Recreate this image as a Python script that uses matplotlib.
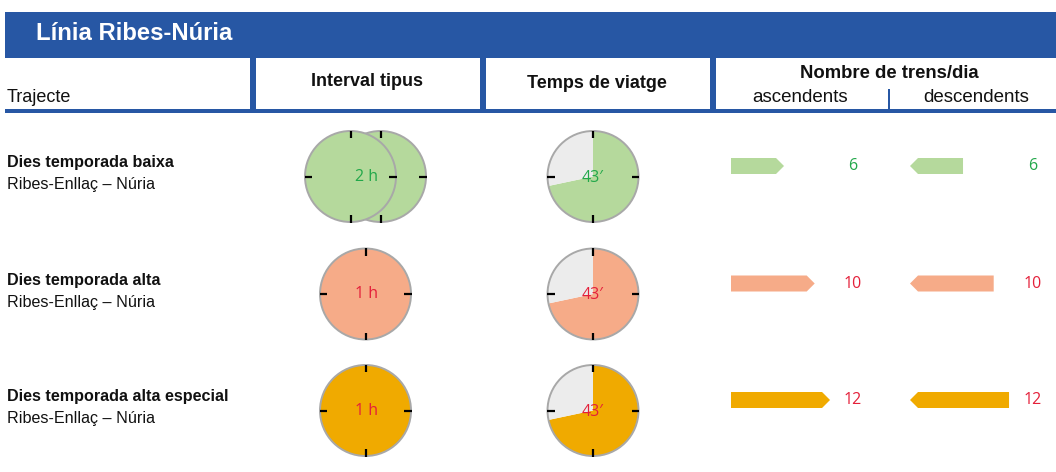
import matplotlib
matplotlib.use("Agg")
import matplotlib.pyplot as plt
from matplotlib.patches import Rectangle, Circle, Wedge, Polygon

plt.rcParams['font.family'] = ['Liberation Sans', 'DejaVu Sans']

# ---------------- data ----------------
title = "Línia Ribes-Núria"
col_headers = ["Trajecte", "Interval tipus", "Temps de viatge", "Nombre de trens/dia"]
sub_headers = ["ascendents", "descendents"]
row_titles = ["Dies temporada baixa", "Dies temporada alta", "Dies temporada alta especial"]
row_routes = ["Ribes-Enllaç – Núria", "Ribes-Enllaç – Núria", "Ribes-Enllaç – Núria"]
interval_hours = [2, 1, 1]
travel_minutes = [43, 43, 43]
trains_up = [6, 10, 12]
trains_down = [6, 10, 12]

# ---------------- style ----------------
BLUE = "#2757a4"
fills = ["#b5d99c", "#f6ab88", "#f0aa00"]
txtcol = ["#22a84a", "#e4203a", "#e4203a"]
GRAY_EDGE = "#a8a8a8"
GRAY_FILL = "#ececec"
INK = "#111111"
NUMFONT = ['Open Sans', 'DejaVu Sans']

W, H = 1056, 472
fig = plt.figure(figsize=(W / 100, H / 100), dpi=100)
ax = fig.add_axes([0, 0, 1, 1])
ax.set_xlim(0, W)
ax.set_ylim(H, 0)
ax.axis("off")

# header bar
ax.add_patch(Rectangle((5, 12), W - 5, 45.5, color=BLUE, lw=0))
ax.text(36, 40, title, color="white", fontsize=17.2, fontweight="bold", va="baseline", ha="left")
for xs in [250, 479.5, 709.5]:
    ax.add_patch(Rectangle((xs, 57), 6, 53, color=BLUE, lw=0))
ax.add_patch(Rectangle((5, 109), W - 5, 4, color=BLUE, lw=0))
ax.add_patch(Rectangle((888, 89), 2.4, 20, color=BLUE, lw=0))

ax.text(7, 102, col_headers[0], fontsize=13, va="baseline", ha="left", color=INK)
ax.text(367, 86.5, col_headers[1], fontsize=13, fontweight="bold", va="baseline", ha="center", color=INK)
ax.text(597, 87.5, col_headers[2], fontsize=13, fontweight="bold", va="baseline", ha="center", color=INK)
ax.text(889, 78, col_headers[3], fontsize=13.3, fontweight="bold", va="baseline", ha="center", color=INK)
ax.text(800, 102, sub_headers[0], fontsize=13.5, va="baseline", ha="center", color=INK)
ax.text(976, 102, sub_headers[1], fontsize=13.5, va="baseline", ha="center", color=INK)

row_y = [176.5, 294, 410.5]
R = 45.5


def clock_face(cx, cy, fill, z):
    ax.add_patch(Circle((cx, cy), R, facecolor=fill, edgecolor=GRAY_EDGE, lw=1.4, zorder=z))


def clock_ticks(cx, cy, z):
    for dx, dy in [(0, -1), (1, 0), (0, 1), (-1, 0)]:
        ax.plot([cx + dx * (R - 7), cx + dx * (R + 0.5)], [cy + dy * (R - 7), cy + dy * (R + 0.5)],
                color="black", lw=1.6, zorder=z + 0.5, solid_capstyle="butt")


for i in range(3):
    cy = row_y[i]
    # labels
    ax.text(7, cy - 9, row_titles[i], fontsize=11.6, fontweight="bold", va="baseline", ha="left", color=INK)
    ax.text(7, cy + 13, row_routes[i], fontsize=11.6, va="baseline", ha="left", color=INK)

    # interval clock(s)
    n = interval_hours[i]
    gx = 365.5
    off = 30
    centers = [gx + (k - (n - 1) / 2) * off for k in range(n)]
    for k, cx in enumerate(reversed(centers)):
        z = 2 + k * 2
        clock_face(cx, cy, fills[i], z)
        clock_ticks(cx, cy, z)
    ax.text(gx + 1, cy + 0.5, f"{n} h", fontsize=11.5, color=txtcol[i], ha="center", va="center",
            zorder=20, family=NUMFONT)

    # travel time clock (screen y is inverted: clockwise on screen = increasing angle)
    tx = 593
    m = travel_minutes[i]
    end = -90 + 360 * m / 60
    ax.add_patch(Wedge((tx, cy), R, -90, end, facecolor=fills[i], edgecolor="none", zorder=2))
    ax.add_patch(Wedge((tx, cy), R, end, 270, facecolor=GRAY_FILL, edgecolor="none", zorder=2))
    ax.add_patch(Circle((tx, cy), R, facecolor="none", edgecolor=GRAY_EDGE, lw=1.4, zorder=3))
    clock_ticks(tx, cy, 3)
    ax.text(tx, cy + 1, f"{m}\u2032", fontsize=11.5, color=txtcol[i], ha="center", va="center",
            zorder=20, family=NUMFONT)

    # train arrows
    ay = cy - 10.5
    hh = 8
    tip = 8
    L_up = 7 + 7.67 * trains_up[i]
    x0 = 731
    ax.add_patch(Polygon([(x0, ay - hh), (x0 + L_up - tip, ay - hh), (x0 + L_up, ay),
                          (x0 + L_up - tip, ay + hh), (x0, ay + hh)], closed=True,
                         facecolor=fills[i], edgecolor="none", zorder=2))
    ax.text(853, ay + 0.5, str(trains_up[i]), fontsize=11.5, color=txtcol[i], ha="center", va="center",
            family=NUMFONT)

    L_dn = 7 + 7.67 * trains_down[i]
    xl = 910
    ax.add_patch(Polygon([(xl, ay), (xl + tip, ay - hh), (xl + L_dn, ay - hh),
                          (xl + L_dn, ay + hh), (xl + tip, ay + hh)], closed=True,
                         facecolor=fills[i], edgecolor="none", zorder=2))
    ax.text(1033, ay + 0.5, str(trains_down[i]), fontsize=11.5, color=txtcol[i], ha="center", va="center",
            family=NUMFONT)

fig.savefig("out.png", dpi=100)
